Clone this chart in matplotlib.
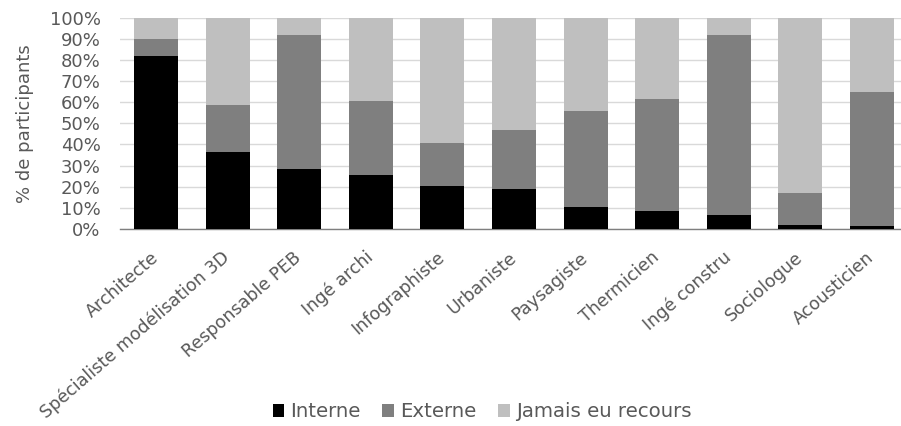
import matplotlib
matplotlib.use("Agg")
import matplotlib.pyplot as plt
import matplotlib.transforms as mtransforms
import numpy as np

categories = ["Architecte", "Spécialiste modélisation 3D", "Responsable PEB", "Ingé archi",
              "Infographiste", "Urbaniste", "Paysagiste", "Thermicien", "Ingé constru",
              "Sociologue", "Acousticien"]
interne = [82, 36.5, 28.2, 25.6, 20.1, 19.0, 10.3, 8.5, 6.3, 1.9, 1.4]
externe = [8, 22.4, 63.6, 34.8, 20.7, 27.8, 45.4, 53.2, 85.5, 15.0, 63.5]
jamais = [100 - a - b for a, b in zip(interne, externe)]

series = [("Interne", interne, "#000000"),
          ("Externe", externe, "#7f7f7f"),
          ("Jamais eu recours", jamais, "#bfbfbf")]

plt.rcParams["font.family"] = ["DejaVu Sans"]
text_col = "#595959"

fig = plt.figure(figsize=(9.01, 4.26), dpi=100)
ax = fig.add_axes([0.1334, 0.463, 0.874, 0.495])

x = np.arange(len(categories))
bottom = np.zeros(len(categories))
for name, vals, col in series:
    ax.bar(x, vals, width=0.615, bottom=bottom, color=col, label=name, zorder=3)
    bottom += np.array(vals)

ax.set_xlim(-0.5, len(categories) - 0.5)
ax.set_ylim(0, 100)
ax.set_yticks(np.arange(0, 101, 10))
ax.set_yticklabels([f"{v}%" for v in range(0, 101, 10)], fontsize=13, color=text_col)
ax.set_xticks(x)
ax.set_xticklabels(categories, rotation=41, ha="right", va="center",
                   rotation_mode="anchor", fontsize=12.6, color=text_col)
# nudge the slanted category labels a little to the right
shift = mtransforms.ScaledTranslation(5 / 72, 0, fig.dpi_scale_trans)
for lbl in ax.get_xticklabels():
    lbl.set_transform(lbl.get_transform() + shift)
ax.tick_params(axis="y", length=0, pad=14)
ax.tick_params(axis="x", length=0, pad=19)
ax.grid(axis="y", color="#d9d9d9", linewidth=1, zorder=0)
for s in ["top", "right", "left"]:
    ax.spines[s].set_visible(False)
ax.spines["bottom"].set_color("#7f7f7f")
ax.spines["bottom"].set_linewidth(1)
ax.set_ylabel("% de participants", fontsize=13, color=text_col, labelpad=11)

handles, labels = ax.get_legend_handles_labels()
fig.legend(handles, labels, loc="center", bbox_to_anchor=(0.535, 0.033), ncol=3,
           frameon=False, fontsize=14.2, labelcolor=text_col, handlelength=0.6,
           handleheight=0.6, handletextpad=0.3, columnspacing=1.1)

fig.savefig("out.png", dpi=100)
